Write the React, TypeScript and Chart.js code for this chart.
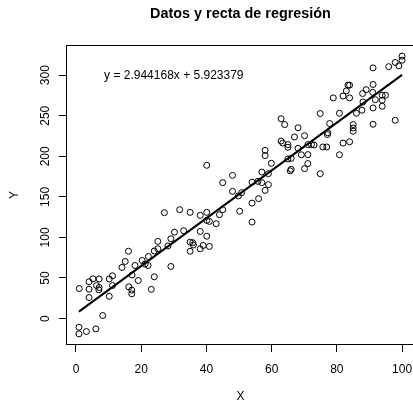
import React, { useEffect, useRef } from "react";
import { Chart, registerables } from "chart.js";
Chart.register(...registerables);

const TITLE = "Datos y recta de regresión";
const X_LABEL = "X";
const Y_LABEL = "Y";
const EQUATION = "y = 2.944168x + 5.923379";
const SLOPE = 2.944168;
const INTERCEPT = 5.923379;
const EQ_X = 30;
const EQ_Y = 300;
const X_TICKS = [0, 20, 40, 60, 80, 100];
const Y_TICKS = [0, 50, 100, 150, 200, 250, 300];

const X_VALUES = [
  0.9, 0.9, 3.2, 6.1, 8.2, 1.0, 4.0, 4.0, 5.2, 7.1,
  4.0, 6.3, 7.1, 7.0, 10.2, 11.2, 10.2, 11.2, 14.1, 15.1,
  16.1, 16.2, 17.1, 17.1, 17.2, 18.1, 19.1, 21.2, 22.2, 22.1,
  20.3, 23.1, 24.0, 24.0, 25.1, 25.1, 27.1, 28.2, 29.1, 30.2,
  29.1, 31.8, 33.0, 35.0, 38.1, 40.1, 40.1, 40.9, 43.0, 44.0,
  45.0, 38.1, 40.1, 35.0, 35.8, 36.0, 39.0, 40.9, 38.1, 35.0,
  40.1, 48.0, 45.0, 48.0, 50.2, 50.8, 49.8, 54.0, 56.0, 54.0,
  54.0, 55.8, 57.0, 58.0, 59.0, 57.0, 59.0, 58.0, 58.0, 59.9,
  62.9, 64.0, 62.9, 63.4, 65.0, 65.0, 68.1, 67.0, 70.1, 68.1,
  69.1, 71.1, 66.0, 65.0, 71.1, 70.1, 66.0, 65.7, 71.1, 72.2,
  73.0, 74.9, 74.9, 75.7, 76.9, 77.1, 77.2, 77.8, 78.9, 80.8,
  80.8, 81.9, 83.9, 81.9, 82.9, 83.4, 83.9, 83.9, 85.0, 85.0,
  85.0, 86.0, 87.7, 88.0, 87.9, 89.0, 91.1, 91.0, 91.1, 91.8,
  91.1, 91.1, 93.9, 94.9, 93.9, 93.9, 95.9, 97.9, 99.0, 100.0,
  100.0, 97.9,
];

const Y_VALUES = [
  -10.7, -18.9, -16.0, -12.7, 3.7, 37.0, 36.2, 45.3, 49.0, 48.8,
  25.9, 40.7, 38.3, 35.4, 48.8, 52.7, 27.4, 40.7, 63.0, 70.4,
  83.0, 39.1, 35.1, 30.5, 53.7, 65.4, 46.9, 67.3, 76.5, 65.4,
  71.6, 36.0, 51.5, 83.3, 86.0, 95.1, 130.5, 89.5, 98.4, 106.5,
  64.2, 134.2, 108.3, 130.9, 127.2, 130.9, 121.0, 119.8, 116.9, 128.0,
  134.2, 107.4, 101.5, 94.2, 93.5, 90.7, 90.1, 88.9, 86.0, 83.0,
  188.9, 176.5, 167.5, 156.8, 132.3, 155.2, 151.2, 142.3, 147.8, 118.9,
  168.1, 169.1, 167.5, 158.0, 165.1, 180.6, 178.6, 207.4, 200.9, 191.4,
  246.3, 239.1, 218.8, 216.3, 214.4, 211.1, 235.2, 223.8, 225.4, 209.9,
  201.9, 202.1, 197.5, 196.7, 191.0, 184.8, 184.0, 182.1, 214.4, 214.4,
  213.9, 252.7, 178.6, 211.5, 211.5, 226.8, 229.0, 240.4, 272.0, 253.1,
  201.9, 216.3, 217.9, 274.3, 280.6, 287.7, 287.7, 272.0, 239.1, 234.9,
  230.9, 253.1, 256.8, 267.0, 277.4, 282.1, 288.5, 278.8, 309.0, 269.8,
  259.6, 239.5, 275.3, 275.3, 269.1, 261.7, 310.5, 315.7, 311.5, 323.5,
  318.5, 244.4,
];

const FONT = '"Liberation Sans", Arial, Helvetica, sans-serif';
const BASE = 12;

function rRange(vals: number[]): [number, number] {
  const mn = Math.min(...vals);
  const mx = Math.max(...vals);
  const pad = (mx - mn) * 0.04;
  return [mn - pad, mx + pad];
}

export default function App() {
  const ref = useRef<HTMLCanvasElement | null>(null);

  useEffect(() => {
    const canvas = ref.current;
    if (!canvas) return;
    const [xMin, xMax] = rRange(X_VALUES);
    const [yMin, yMax] = rRange(Y_VALUES);
    const points = X_VALUES.map((x, i) => ({ x, y: Y_VALUES[i] }));
    const x0 = Math.min(...X_VALUES);
    const x1 = Math.max(...X_VALUES);
    const fit = [
      { x: x0, y: INTERCEPT + SLOPE * x0 },
      { x: x1, y: INTERCEPT + SLOPE * x1 },
    ];

    const textPlugin = {
      id: "rtext",
      afterDraw(chart: any) {
        const ctx = chart.ctx as CanvasRenderingContext2D;
        const { left, right, top, bottom } = chart.chartArea;
        const xs = chart.scales.x;
        const ys = chart.scales.y;
        ctx.save();
        ctx.strokeStyle = "#000";
        ctx.lineWidth = 1;
        ctx.strokeRect(left + 0.5, top + 0.5, right - left - 1, bottom - top - 1);
        ctx.fillStyle = "#000";
        // title
        ctx.font = `bold ${BASE * 1.2}px ${FONT}`;
        ctx.textAlign = "center";
        ctx.textBaseline = "alphabetic";
        ctx.fillText(TITLE, (left + right) / 2, 18);
        // x tick labels
        ctx.font = `${BASE}px ${FONT}`;
        xs.ticks.forEach((t: any) => {
          ctx.fillText(String(t.value), xs.getPixelForValue(t.value), 373);
        });
        // x title
        ctx.fillText(X_LABEL, (left + right) / 2, 400);
        // y tick labels rotated
        ys.ticks.forEach((t: any) => {
          ctx.save();
          ctx.translate(48.5, ys.getPixelForValue(t.value));
          ctx.rotate(-Math.PI / 2);
          ctx.fillText(String(t.value), 0, 0);
          ctx.restore();
        });
        // y title
        ctx.save();
        ctx.translate(18, (top + bottom) / 2);
        ctx.rotate(-Math.PI / 2);
        ctx.fillText(Y_LABEL, 0, 0);
        ctx.restore();
        // equation
        ctx.fillText(EQUATION, xs.getPixelForValue(EQ_X), ys.getPixelForValue(EQ_Y) + 4.3);
        ctx.restore();
      },
    };

    const chart = new Chart(canvas, {
      type: "scatter",
      data: {
        datasets: [
          {
            data: fit,
            showLine: true,
            borderColor: "#000",
            borderWidth: 2,
            pointRadius: 0,
            fill: false,
          },
          {
            data: points,
            pointStyle: "circle",
            pointRadius: 3,
            pointBorderWidth: 1,
            pointBorderColor: "#000",
            pointBackgroundColor: "rgba(0,0,0,0)",
            borderColor: "#000",
            backgroundColor: "rgba(0,0,0,0)",
          },
        ],
      },
      options: {
        animation: false,
        responsive: false,
        devicePixelRatio: 1,
        layout: { padding: { top: 45, left: 0, right: 0, bottom: 0 }, autoPadding: false },
        plugins: {
          legend: { display: false },
          tooltip: { enabled: false },
          title: { display: false },
        },
        scales: {
          x: {
            type: "linear",
            min: xMin,
            max: xMax,
            afterBuildTicks: (s: any) => {
              s.ticks = X_TICKS.map((v) => ({ value: v }));
            },
            afterFit: (s: any) => {
              s.height = 59;
            },
            ticks: { display: false },
            grid: { display: true, drawOnChartArea: false, drawTicks: true, tickLength: 7, color: "#000", lineWidth: 1 },
            border: { display: false },
          },
          y: {
            type: "linear",
            min: yMin,
            max: yMax,
            afterBuildTicks: (s: any) => {
              s.ticks = Y_TICKS.map((v) => ({ value: v }));
            },
            afterFit: (s: any) => {
              s.width = 66;
            },
            ticks: { display: false },
            grid: { display: true, drawOnChartArea: false, drawTicks: true, tickLength: 7, color: "#000", lineWidth: 1 },
            border: { display: false },
          },
        },
      },
      plugins: [textPlugin],
    });
    return () => chart.destroy();
  }, []);

  return (
    <div style={{ position: "fixed", left: 0, top: 0, width: 413, height: 404, overflow: "hidden", background: "#fff" }}>
      <canvas ref={ref} width={415} height={404} style={{ display: "block" }} />
    </div>
  );
}
